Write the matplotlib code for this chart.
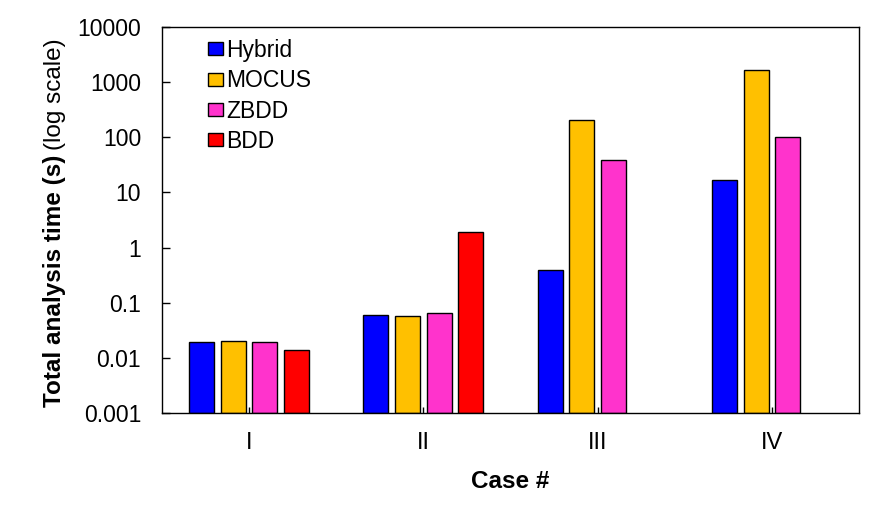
import numpy as np
import matplotlib
matplotlib.use("Agg")
from matplotlib import pyplot as plt

plt.rcParams['font.family'] = ['Liberation Sans', 'DejaVu Sans']

cases = ['I', 'II', 'III', 'IV']
methods = ['Hybrid', 'MOCUS', 'ZBDD', 'BDD']
colors = ['#0000FF', '#FFC000', '#FF33CC', '#FF0000']

# analysis time in seconds (None = no result)
hybrid = [0.018, 0.059, 0.39, 17]
mocus = [0.019, 0.057, 210, 1670]
zbdd = [0.018, 0.063, 38, 101]
bdd = [0.0128, 1.95, None, None]

yticks = [0.001, 0.01, 0.1, 1, 10, 100, 1000, 10000]
ytick_labels = ['0.001', '0.01', '0.1', '1', '10', '100', '1000', '10000']


def main():
    fig = plt.figure(figsize=(8.7, 5.13), dpi=100)
    ax = fig.add_axes([162 / 870, 1 - 413 / 513, 697 / 870, 386 / 513])

    x = np.arange(len(cases))
    pitch = 0.1816
    width = 0.1437
    series = [hybrid, mocus, zbdd, bdd]
    for i, (name, vals, col) in enumerate(zip(methods, series, colors)):
        xs = [xi + (i - 1.5) * pitch for xi, v in zip(x, vals) if v is not None]
        ys = [v for v in vals if v is not None]
        ax.bar(xs, ys, width=width, color=col, edgecolor='black',
               linewidth=1.0, label=name, bottom=0.001)

    ax.set_yscale('log')
    ax.set_ylim(0.001, 10000)
    ax.set_xlim(-0.5, 3.5)
    ax.set_yticks(yticks)
    ax.set_yticklabels(ytick_labels)
    ax.minorticks_off()
    ax.set_xticks(x)
    ax.set_xticklabels(cases)

    ax.tick_params(axis='y', direction='in', length=6, width=1.0,
                   labelsize=16.5, pad=15)
    ax.tick_params(axis='x', direction='in', length=4, width=1.0,
                   labelsize=17, pad=14)
    for s in ax.spines.values():
        s.set_linewidth(1.0)

    ax.set_xlabel('Case #', fontsize=17.5, fontweight='bold', labelpad=11)

    # y label: bold part + normal part
    t1 = fig.text(55 / 870, 1 - 407 / 513, 'Total analysis time (s)',
                  rotation=90, ha='center', va='bottom',
                  fontsize=17.5, fontweight='bold')
    r = fig.canvas.get_renderer()
    bb = t1.get_window_extent(r)
    fig.text(55 / 870, (bb.y1 + 5) / 513, '(log scale)',
             rotation=90, ha='center', va='bottom', fontsize=17.5)

    ax.legend(loc='upper left', bbox_to_anchor=(208 / 870, 1 - 39 / 513),
              bbox_transform=fig.transFigure, frameon=False, fontsize=16.5,
              handlelength=0.65, handleheight=0.5, handletextpad=0.15,
              labelspacing=0.32, borderpad=0, borderaxespad=0)

    fig.savefig('out.png', dpi=100)


if __name__ == '__main__':
    main()
